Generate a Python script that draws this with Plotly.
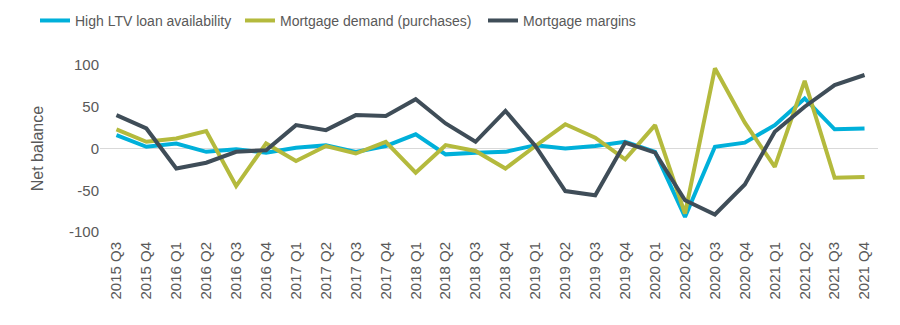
import plotly.graph_objects as go

quarters = ["2015 Q3","2015 Q4","2016 Q1","2016 Q2","2016 Q3","2016 Q4","2017 Q1","2017 Q2",
            "2017 Q3","2017 Q4","2018 Q1","2018 Q2","2018 Q3","2018 Q4","2019 Q1","2019 Q2",
            "2019 Q3","2019 Q4","2020 Q1","2020 Q2","2020 Q3","2020 Q4","2021 Q1","2021 Q2",
            "2021 Q3","2021 Q4"]

high_ltv = [16, 2, 6, -4, -1, -5, 1, 4, -4, 3, 17, -7, -5, -4, 4, 0, 3, 8, -4, -82, 2, 7, 28, 60, 23, 24]
demand = [23, 8, 12, 21, -45, 6, -15, 3, -6, 8, -29, 4, -3, -24, 3, 29, 13, -13, 28, -78, 96, 31, -22, 81, -35, -34]
margins = [40, 24, -24, -17, -4, -2, 28, 22, 40, 39, 59, 30, 8, 45, 3, -51, -56, 7, -5, -62, -79, -43, 20, 50, 76, 88]

y_ticks = [-100, -50, 0, 50, 100]
y_tick_labels = ["-100", "-50", "0", "50", "100"]
y_title = "Net balance"

names = ["High LTV loan availability", "Mortgage demand (purchases)", "Mortgage margins"]
colors = ["#00b0da", "#b4ba3d", "#3f4d58"]
legend_ids = ["legend", "legend2", "legend3"]
legend_x = [35, 240, 483]

font_col = "#595959"
legend_font = dict(family="Liberation Sans, Arial, sans-serif", size=14, color=font_col)

fig = go.Figure()
for name, vals, col, lid in zip(names, [high_ltv, demand, margins], colors, legend_ids):
    fig.add_trace(go.Scatter(x=quarters, y=vals, mode="lines", name=name, legend=lid,
                             line=dict(color=col, width=4)))

legend_layouts = {}
for lid, lx in zip(legend_ids, legend_x):
    legend_layouts[lid] = dict(orientation="v", xref="container", yref="container",
                               x=lx / 900, y=0.985, xanchor="left", yanchor="top",
                               font=legend_font, itemwidth=30, borderwidth=0,
                               bgcolor="rgba(0,0,0,0)")

fig.update_layout(
    width=900, height=325,
    margin=dict(l=100, r=22, t=65, b=93, autoexpand=False),
    paper_bgcolor="white", plot_bgcolor="white",
    font=dict(family="Liberation Sans, Arial, sans-serif", color=font_col, size=14),
    showlegend=True,
    xaxis=dict(showgrid=False, showline=False, ticks="", tickangle=-90,
               tickfont=dict(size=15, color=font_col), range=[-0.55, 25.45],
               ticklabelstandoff=6),
    yaxis=dict(range=[-100, 100], tickvals=y_ticks, ticktext=y_tick_labels,
               showgrid=False, zeroline=True, zerolinecolor="#d9d9d9", zerolinewidth=1,
               showline=False, ticks="", tickfont=dict(size=15, color=font_col)),
    annotations=[dict(text=y_title, xref="paper", yref="paper", x=-0.08, y=0.5,
                      xanchor="center", yanchor="middle", textangle=-90, showarrow=False,
                      font=dict(size=16, color=font_col))],
    **legend_layouts,
)

fig.write_html("out.html")
